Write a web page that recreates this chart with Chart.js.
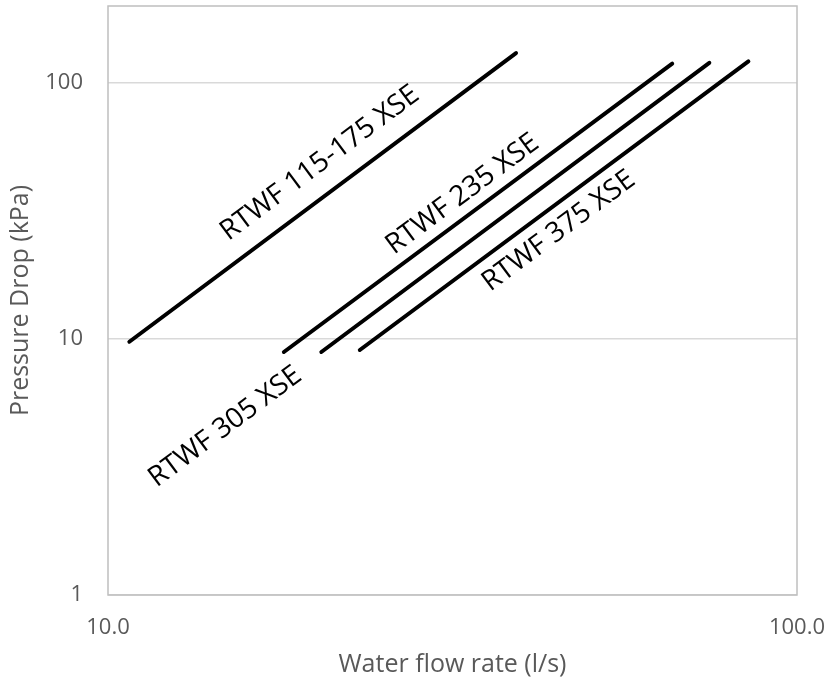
<!DOCTYPE html>
<html>
<head>
<meta charset="utf-8">
<script src="https://cdn.jsdelivr.net/npm/chart.js@4"></script>
<style>
  body { margin: 0; background: #fff; }
  #wrap { width: 828px; height: 690px; }
</style>
</head>
<body>
<div id="wrap"><canvas id="myChart"></canvas></div>
<script>
// values (log-log)
const seriesNames = ['RTWF 115-175 XSE', 'RTWF 235 XSE', 'RTWF 305 XSE', 'RTWF 375 XSE'];
const flowStart = [10.74, 18.0, 20.4, 23.2];
const flowEnd = [39.1, 65.9, 74.6, 85.0];
const dropStart = [9.76, 8.9, 8.9, 9.06];
const dropEnd = [131, 119, 120, 121.5];

// where each name sits (data coords)
const labelFlow = [20.3, 32.7, 14.8, 45.1];
const labelDrop = [48.6, 36.8, 4.54, 26.4];

const xTicks = [10, 100];
const yTicks = [1, 10, 100];

const axisFont = 'Open Sans';
const grey = '#595959';

const datasets = seriesNames.map((name, i) => ({
	label: name,
	data: [{ x: flowStart[i], y: dropStart[i] }, { x: flowEnd[i], y: dropEnd[i] }],
	borderColor: '#000',
	borderWidth: 4,
	borderCapStyle: 'round',
	pointRadius: 0,
	fill: false
}));

// names written along the lines + the box round the plot
const lineLabels = {
	id: 'lineLabels',
	afterDatasetsDraw(chart) {
		const { ctx, chartArea, scales: { x, y } } = chart;
		ctx.save();
		ctx.strokeStyle = '#bfbfbf';
		ctx.lineWidth = 1.5;
		ctx.strokeRect(chartArea.left, chartArea.top, chartArea.right - chartArea.left, chartArea.bottom - chartArea.top);

		ctx.fillStyle = '#000';
		ctx.font = '28px "Open Sans"';
		ctx.textAlign = 'center';
		ctx.textBaseline = 'middle';
		seriesNames.forEach((name, i) => {
			const dx = x.getPixelForValue(flowEnd[i]) - x.getPixelForValue(flowStart[i]);
			const dy = y.getPixelForValue(dropEnd[i]) - y.getPixelForValue(dropStart[i]);
			ctx.save();
			ctx.translate(x.getPixelForValue(labelFlow[i]), y.getPixelForValue(labelDrop[i]));
			ctx.rotate(Math.atan2(dy, dx));
			ctx.fillText(name, 0, 0);
			ctx.restore();
		});
		ctx.restore();
	}
};

new Chart(document.querySelector('#myChart'), {
	type: 'line',
	data: { datasets: datasets },
	options: {
		responsive: true,
		maintainAspectRatio: false,
		animation: false,
		layout: { padding: { left: 0, right: 31, top: 6, bottom: 0 } },
		plugins: {
			legend: { display: false },
			tooltip: { enabled: false }
		},
		scales: {
			x: {
				type: 'logarithmic',
				min: 10,
				max: 100,
				afterBuildTicks: (scale) => { scale.ticks = xTicks.map(v => ({ value: v })); },
				afterFit: (scale) => {
					scale.height = 95;
					scale.paddingLeft = 0;
					scale.paddingRight = 0;
				},
				grid: { display: false, drawTicks: false },
				border: { display: false },
				ticks: {
					padding: 20,
					color: grey,
					font: { family: axisFont, size: 22 },
					maxRotation: 0,
					callback: (v) => Number(v).toFixed(1)
				},
				title: {
					display: true,
					text: 'Water flow rate (l/s)',
					color: grey,
					font: { family: axisFont, size: 25 },
					padding: { top: 0, bottom: 10 }
				}
			},
			y: {
				type: 'logarithmic',
				min: 1,
				max: 200,
				afterBuildTicks: (scale) => { scale.ticks = yTicks.map(v => ({ value: v })); },
				afterFit: (scale) => {
					scale.width = 108;
					scale.paddingTop = 0;
					scale.paddingBottom = 0;
				},
				grid: { color: '#d9d9d9', lineWidth: 1.5, drawTicks: false },
				border: { display: false },
				ticks: {
					padding: 25,
					color: grey,
					font: { family: axisFont, size: 22 },
					callback: (v) => String(v)
				},
				title: {
					display: true,
					text: 'Pressure Drop (kPa)',
					color: grey,
					font: { family: axisFont, size: 25 },
					padding: { top: 6, bottom: 0 }
				}
			}
		}
	},
	plugins: [lineLabels]
});
</script>
</body>
</html>
